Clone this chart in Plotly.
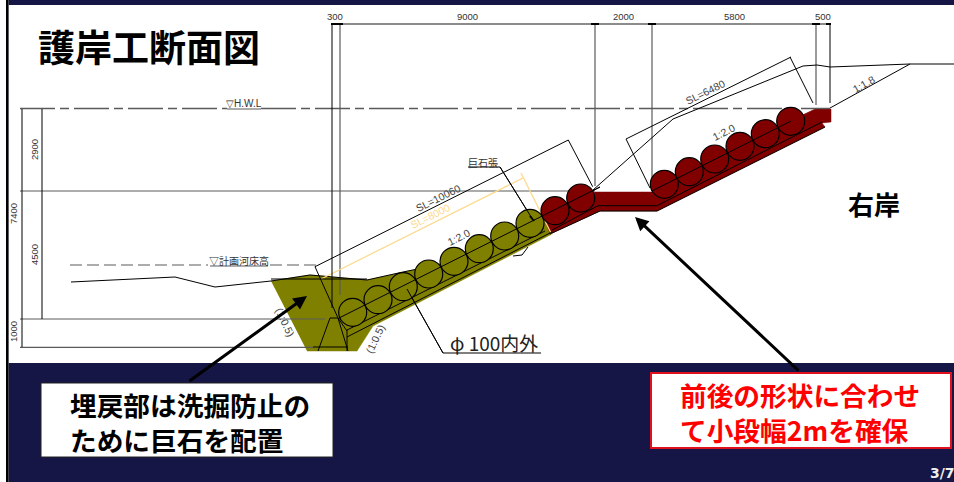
import plotly.graph_objects as go

NAVY = "#151645"
OLIVE = "#808000"
MAROON = "#800000"
GREY = "#5a5a5a"
YELLOW = "#ffd98a"

# ---- circles (stones)
olive_x = [352.7, 378, 403.3, 428.7, 454, 479.3, 504.7, 530]
olive_y = [312.3, 299.7, 286.7, 274, 261.3, 248.7, 236, 223.3]
red_x = [555, 580.7, 664.3, 689.3, 714.7, 740, 765.3, 790.7]
red_y = [210.7, 198, 184.3, 171.7, 159, 146.3, 133.7, 121.3]

# ---- filled sections
olive_poly_x = [271, 310, 367, 403, 437, 543, 552, 373, 357, 307]
olive_poly_y = [281, 275, 280, 272, 265, 216, 234, 326, 351, 351]
red_low_x = [543, 595, 652, 790, 815, 831, 831, 822, 825, 657, 600, 550]
red_low_y = [216, 192, 192, 121, 109, 109, 122, 123, 127, 211, 211, 234]

# ---- line groups: (x list, y list)
ground_x = [71, 175, 215, 271, 310, 367, 403, 437]
ground_y = [282, 277, 287, 281, 275, 280, 272, 265]
bank_x = [593, 673, 803, 817, 830, 910, 954]
bank_y = [190, 119, 66, 65, 67, 64, 64]
slope18_x = [830, 910]
slope18_y = [108, 64]

black_lines = [
    ([22, 22], [109, 347]), ([42, 42], [109, 319]),
    ([332, 332], [24, 308]),
    ([315, 568.3], [266.7, 140]), ([315, 338, 347], [266.7, 318, 331]), ([568.3, 592.7], [140, 186.7]),
    ([626, 791], [139, 57]), ([626, 650], [139, 188]), ([790, 813], [57, 103]),
    ([830, 830], [24, 103]),
    ([339, 543], [318, 216]), ([543, 600], [216, 187]), ([652, 791], [191, 121]),
    ([657, 822], [205.7, 122]), ([598, 657], [205.7, 205.7]), ([552, 598], [230, 205.7]),
    ([347, 552], [337, 232]), ([347, 347], [330, 351]), ([347, 545], [330, 231]),
    ([271, 367], [279, 279]),
    ([330, 318], [318, 351]), ([330, 338], [318, 318]), ([338, 348], [318, 351]),
    ([313, 348], [347, 347]),
    ([500, 533], [167, 220]), ([468, 500], [167, 167]),
    ([407, 443], [289, 353]), ([443, 541], [353, 353]),
    ([513, 522, 528], [256, 255, 247]),
    ([543, 555, 570], [217, 225, 207]),
    ([550, 600, 657, 825], [234, 211, 211, 127]),
]
grey_lines = [
    ([20, 595], [191, 191]), ([20, 325], [319, 319]), ([20, 313], [347.3, 347.3]),
    ([595, 595], [24, 186]), ([652, 652], [24, 180]), ([816, 816], [24, 105]),
    ([340, 340], [24, 295]),
    ([210, 268], [266, 266]), ([227, 261], [109, 109]),
]
top_dim_x = [331, 830]
top_dim_y = [24, 24]
tick_segments = [
    ([331, 343], [24, 24]), ([591, 599], [24, 24]), ([648, 656], [24, 24]),
    ([812, 820], [24, 24]), ([826, 831], [24, 24]), ([530, 534], [216, 221]),
]
yellow_lines = [
    ([321, 523], [279, 178]), ([521, 552], [173, 235]),
]
hwl_x = [20, 227]
hwl_y = [108.5, 108.5]
hwl2_x = [261, 830]
hwl2_y = [108.5, 108.5]
bed_x = [70, 208]
bed_y = [265, 265]
bed2_x = [270, 320]
bed2_y = [265, 265]

# ---- text
dim_labels = ["300", "9000", "2000", "5800", "500"]
dim_label_x = [335, 467, 623, 734, 823]
dim_label_y = [16, 16, 16, 16, 16]
v_labels = ["2900", "7400", "4500", "1000"]
v_label_x = [34, 13, 34, 13]
v_label_y = [150, 214, 255, 332]
slope_labels = ["SL=10060", "1:2.0", "SL=6480", "1:2.0", "1:1.8", "(1:0.5)", "(1:0.5)"]
slope_label_x = [438, 459, 705, 724, 864, 285, 375]
slope_label_y = [198, 237, 92, 132, 84, 322, 339]
slope_label_a = [-26.5, -26.5, -26.5, -26.5, -29, 65, -65]

fig = go.Figure()


def line(x, y, color="black", width=1.0, dash=None):
    fig.add_trace(go.Scatter(x=x, y=y, mode="lines", hoverinfo="skip",
                             line=dict(color=color, width=width, dash=dash)))


def poly(x, y, color):
    fig.add_trace(go.Scatter(x=x, y=y, mode="lines", fill="toself", fillcolor=color,
                             hoverinfo="skip", line=dict(color=color, width=0.5)))


SANS = "Liberation Sans"
CJK = "Noto Sans CJK JP"


def text(t, x, y, size, color="black", angle=0, family=SANS, anchor="center"):
    fig.add_annotation(x=x, y=y, xref="x", yref="y", text=t, showarrow=False, textangle=angle,
                       xanchor=anchor, yanchor="middle", align="left",
                       font=dict(size=size, color=color, family=family))


poly(olive_poly_x, olive_poly_y, OLIVE)
poly(red_low_x, red_low_y, MAROON)

for xs, ys in grey_lines:
    line(xs, ys, GREY, 1.2)
line(top_dim_x, top_dim_y, "#666666", 1.5)
dash_pat = "35px,5px,9px,5px"
line(hwl_x, hwl_y, GREY, 1.5, dash_pat)
line(hwl2_x, hwl2_y, GREY, 1.5, dash_pat)
line(bed_x, bed_y, GREY, 1.2, "12px,5px")
line(bed2_x, bed2_y, GREY, 1.2, "12px,5px")
line(ground_x, ground_y, "black", 1)
line(bank_x, bank_y, "black", 1)
line(slope18_x, slope18_y, "black", 1)
for xs, ys in yellow_lines:
    line(xs, ys, YELLOW, 1.2)

for xs, ys in black_lines:
    line(xs, ys, "black", 1)

fig.add_trace(go.Scatter(x=olive_x, y=olive_y, mode="markers", hoverinfo="skip",
                         marker=dict(size=28, color=OLIVE, line=dict(color="black", width=1.2))))
fig.add_trace(go.Scatter(x=red_x, y=red_y, mode="markers", hoverinfo="skip",
                         marker=dict(size=28, color=MAROON, line=dict(color="black", width=1.2))))

# centre line and leaders drawn again over the stones
line([339, 600], [318, 187], "black", 1)
line([652, 791], [191, 121], "black", 1)
line([500, 533], [167, 220], "black", 1)
line([407, 443], [289, 353], "black", 1)
for xs, ys in tick_segments:
    line(xs, ys, "black", 2)

# text
text("<b>護岸工断面図</b>", 148.5, 46, 37, "black", family=CJK)
text("<b>右岸</b>", 874, 203, 26, "black", family=CJK)
for t, x, y in zip(dim_labels, dim_label_x, dim_label_y):
    text(t, x, y, 9.5, "#333333")
for t, x, y in zip(v_labels, v_label_x, v_label_y):
    text(t, x, y, 9.5, "#333333", angle=-90)
for t, x, y, a in zip(slope_labels, slope_label_x, slope_label_y, slope_label_a):
    text(t, x, y, 10.5, "#444444", angle=a)
text("SL=8000", 430, 216, 10.5, YELLOW, angle=-26.5)
text("▽H.W.L", 244, 103, 10, "#333333")
text("▽計画河床高", 239, 260, 10, "#333333", family=CJK)
text("巨石張", 483, 162, 10, "#333333", family=CJK)
text("φ 100内外", 494, 342, 19, "#222222", family=CJK)

# callout boxes
fig.add_shape(type="rect", x0=41, x1=333, y0=383, y1=457, fillcolor="white",
              line=dict(color="#222222", width=1), layer="above")
fig.add_shape(type="rect", x0=651, x1=951, y0=373, y1=448, fillcolor="white",
              line=dict(color="#e0101c", width=2), layer="above")
text("<b>埋戻部は洗掘防止の<br>ために巨石を配置</b>", 68, 422, 26.7, "black", family=CJK, anchor="left")
text("<b>前後の形状に合わせ<br>て小段幅2mを確保</b>", 678, 412, 26.7, "#ff0000", family=CJK, anchor="left")
text("<b>3/7</b>", 928, 473, 14, "#eeeeee", family="DejaVu Sans", anchor="left")

# arrows
for (tx, ty, ax, ay) in [(307, 296, 188, 382), (635, 217, 800, 372)]:
    fig.add_annotation(x=tx, y=ty, ax=ax, ay=ay, xref="x", yref="y", axref="x", ayref="y",
                       text="", showarrow=True, arrowhead=2, arrowsize=0.9, arrowwidth=3,
                       arrowcolor="black")

# page background and panel
fig.add_shape(type="rect", x0=8.5, x1=954, y0=0, y1=482, fillcolor=NAVY, line_width=0, layer="below")
fig.add_shape(type="rect", x0=8.5, x1=954, y0=5, y1=363, fillcolor="white", line_width=0, layer="below")
fig.add_shape(type="rect", x0=6, x1=8.5, y0=0, y1=482, fillcolor="black", line_width=0, layer="below")

fig.update_layout(width=954, height=482, margin=dict(l=0, r=0, t=0, b=0), showlegend=False,
                  paper_bgcolor="white", plot_bgcolor="white",
                  xaxis=dict(range=[0, 954], visible=False, fixedrange=True),
                  yaxis=dict(range=[482, 0], visible=False, fixedrange=True))
fig.write_html("out.html", config={"displayModeBar": False},
               post_script="document.body.style.margin='0';document.body.style.overflow='hidden';")
